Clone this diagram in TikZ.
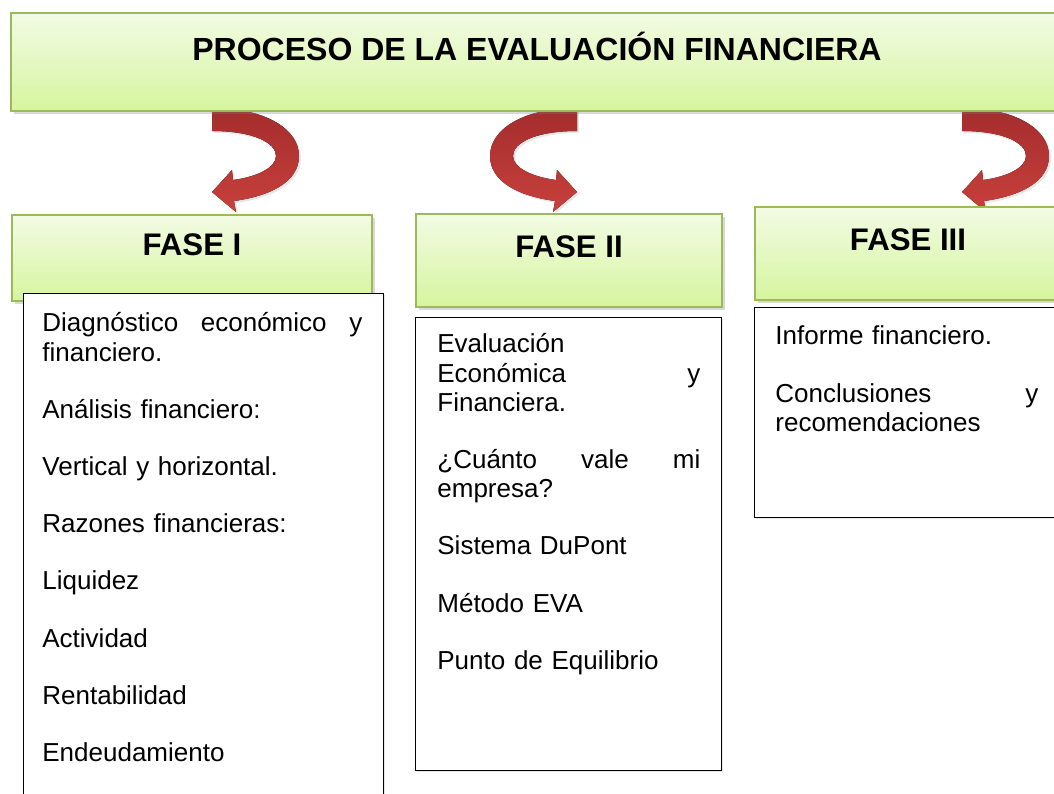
\documentclass[tikz,border=0pt]{standalone}
\usepackage{fontspec}
\setmainfont{Liberation Sans}
\usetikzlibrary{shadows}

\definecolor{fasegreen}{HTML}{9BBB59}
\definecolor{fasetop}{HTML}{F2FBE4}
\definecolor{fasebottom}{HTML}{D6F59E}
\definecolor{arrowdark}{HTML}{A32D2D}
\definecolor{arrowlight}{HTML}{C8403C}

\tikzset{
  fasebox/.style={rectangle, draw=fasegreen, line width=1pt, top color=fasetop, bottom color=fasebottom,
    inner sep=0pt, anchor=north west, font=\fontsize{15.6}{18}\bfseries,
    drop shadow={shadow xshift=1.5pt, shadow yshift=-1.5pt, opacity=0.3}},
  listbox/.style={rectangle, draw=black, line width=0.6pt, fill=white, inner sep=0pt, anchor=north west,
    drop shadow={shadow xshift=0.8pt, shadow yshift=-0.8pt, opacity=0.2}},
  listtext/.style={anchor=north west, inner sep=0pt, text width=#1, align=left, font=\fontsize{13}{14.6}\selectfont},
  curlarrow/.pic={
    \fill[top color=arrowdark, bottom color=arrowlight, drop shadow={shadow xshift=1pt, shadow yshift=-1pt, opacity=0.2}]
      (0,0) .. controls (55,0) and (87,22) .. (87,48) .. controls (87,74) and (58,88) .. (22,93)
      -- (24,104) -- (0,84) -- (20,62) -- (21,72)
      .. controls (44,69) and (64,60) .. (64,48) .. controls (64,35) and (42,23) .. (0,23) -- cycle;
  }
}

\begin{document}
\begin{tikzpicture}[x=0.5pt, y=-0.5pt]

            %\draw [help lines] (0,0) grid (1054,793);
            \useasboundingbox (0,0) rectangle (1054,793);
            \clip (0,0) rectangle (1054,793);

            % curved arrows under the title
            \pic at (212,108) {curlarrow};
            \pic[xscale=-1] at (577,108) {curlarrow};
            \pic at (962,108) {curlarrow};

            \path   (10,12) node (titulo) [fasebox, font=\fontsize{16}{19}\bfseries, minimum width=526pt,
                        text height=23.7pt, text depth=25.3pt] {PROCESO DE LA EVALUACIÓN FINANCIERA}
                    (11,214) node (f1) [fasebox, minimum width=180pt, text height=20pt, text depth=23pt] {FASE I}
                    (415,213) node (f2) [fasebox, minimum width=153pt, text height=21.5pt, text depth=25pt] {FASE II}
                    (754,206) node (f3) [fasebox, minimum width=153pt, text height=21.5pt, text depth=25pt] {FASE III};

            \path   (23,293) node (c1) [listbox, minimum width=180pt, minimum height=253.5pt] {}
                    (415,317) node (c2) [listbox, minimum width=153pt, minimum height=226.5pt] {}
                    (754,307) node (c3) [listbox, minimum width=153pt, minimum height=105pt] {};

            \path   (42,311) node (t1) [listtext=160pt] {\strut Diagnóstico\hfill económico\hfill y\\
                        financiero.\\[14pt]
                        Análisis financiero:\\[14pt]
                        Vertical y horizontal.\\[14pt]
                        Razones financieras:\\[14pt]
                        Liquidez\\[14pt]
                        Actividad\\[14pt]
                        Rentabilidad\\[14pt]
                        Endeudamiento}
                    (437,332) node (t2) [listtext=131.5pt] {\strut Evaluación\\
                        Económica\hfill y\\
                        Financiera.\\[14pt]
                        ¿Cuánto\hfill vale\hfill mi\\
                        empresa?\\[14pt]
                        Sistema DuPont\\[14pt]
                        Método EVA\\[14pt]
                        Punto de Equilibrio}
                    (775,324) node (t3) [listtext=131.5pt] {\strut Informe financiero.\\[14pt]
                        Conclusiones\hfill y\\
                        recomendaciones};
        \end{tikzpicture}
\end{document}
